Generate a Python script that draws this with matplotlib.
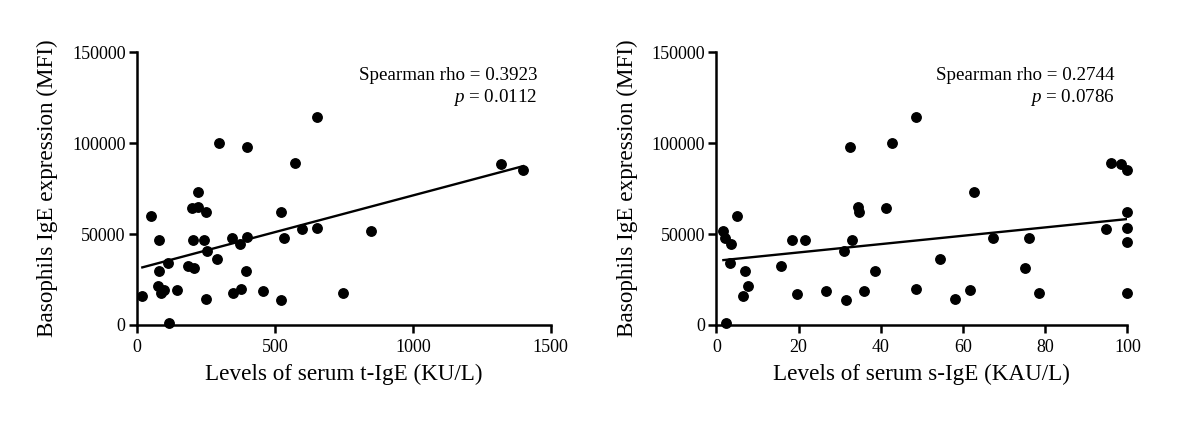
import numpy as np
import matplotlib
matplotlib.use("Agg")
import matplotlib.pyplot as plt

plt.rcParams['font.family'] = ['Liberation Serif', 'DejaVu Serif']
plt.rcParams['mathtext.fontset'] = 'custom'
plt.rcParams['mathtext.it'] = 'Liberation Serif:italic'
plt.rcParams['mathtext.rm'] = 'Liberation Serif'

# basophil IgE expression (MFI) vs total IgE (KU/L)
tige_x = [20, 53, 82, 82, 78, 89, 98, 113, 115, 146, 186, 206, 200, 222, 222,
          202, 242, 250, 255, 249, 290, 298, 344, 373, 349, 379, 400, 401, 395,
          456, 522, 524, 534, 572, 600, 653, 653, 747, 847, 1320, 1400]
tige_y = [16000, 60000, 46700, 29900, 21600, 17400, 19000, 33900, 900, 19400,
          32600, 31500, 64100, 65000, 73300, 46500, 46700, 61900, 40500, 14300,
          36100, 100200, 48000, 44300, 17800, 19600, 48200, 97800, 29900, 18700,
          62300, 13600, 48000, 89200, 52700, 53100, 114300, 17800, 51800, 88800,
          85500]

# basophil IgE expression (MFI) vs specific IgE (KAU/L)
sige_x = [5.0, 1.7, 2.1, 3.6, 3.2, 6.9, 7.8, 6.4, 2.4, 15.7, 18.5, 21.6, 19.7,
          26.7, 31.0, 31.5, 32.9, 32.6, 34.5, 34.8, 36.0, 38.7, 41.3, 42.8,
          48.5, 48.5, 54.3, 62.6, 58.1, 61.6, 67.3, 75.0, 76.0, 78.4, 94.8,
          96.0, 98.4, 99.9, 99.9, 99.9, 99.9, 99.9]
sige_y = [60100, 51800, 48000, 44300, 33900, 29900, 21600, 15800, 900, 32600,
          46700, 46700, 17000, 18900, 40500, 13700, 46500, 97800, 65000, 61900,
          18700, 29900, 64100, 100200, 114300, 19600, 36100, 73300, 14300, 19200,
          48000, 31500, 48000, 17800, 52700, 89200, 88800, 85500, 62300, 53100,
          45600, 17800]

panels = [
    (tige_x, tige_y, (0, 1500), [0, 500, 1000, 1500],
     'Levels of serum t-IgE (KU/L)', '0.3923', '0.0112'),
    (sige_x, sige_y, (0, 100), [0, 20, 40, 60, 80, 100],
     'Levels of serum s-IgE (KAU/L)', '0.2744', '0.0786'),
]

fig = plt.figure(figsize=(12, 4.24), dpi=100)
rects = [[0.114, 0.2335, 0.345, 0.643], [0.597, 0.2335, 0.3425, 0.643]]

for rect, (x, y, xlim, xticks, xlabel, rho, p) in zip(rects, panels):
    ax = fig.add_axes(rect)
    x = np.array(x)
    y = np.array(y)
    ax.plot(x, y, 'o', color='black', markersize=6.8, clip_on=False, zorder=3)
    k, b = np.polyfit(x, y, 1)
    xx = np.array([x.min(), x.max()])
    ax.plot(xx, k * xx + b, color='black', lw=1.7)
    ax.set_xlim(xlim)
    ax.set_ylim(0, 150000)
    ax.set_xticks(xticks)
    ax.set_yticks([0, 50000, 100000, 150000])
    for s in ['top', 'right']:
        ax.spines[s].set_visible(False)
    for s in ['left', 'bottom']:
        ax.spines[s].set_linewidth(1.8)
    ax.tick_params(direction='out', length=6, width=1.8, labelsize=13)
    ax.tick_params(axis='x', pad=4)
    ax.tick_params(axis='y', pad=2)
    ax.set_xlabel(xlabel, fontsize=16.7, labelpad=6)
    ax.set_ylabel('Basophils IgE expression (MFI)', fontsize=16.7, labelpad=10)
    ax.text(0.968, 0.916, 'Spearman rho = ' + rho, transform=ax.transAxes,
            ha='right', va='center', fontsize=13.7)
    ax.text(0.968, 0.834, '$p$ = ' + p, transform=ax.transAxes,
            ha='right', va='center', fontsize=13.7)

plt.savefig('out.png', dpi=100)
